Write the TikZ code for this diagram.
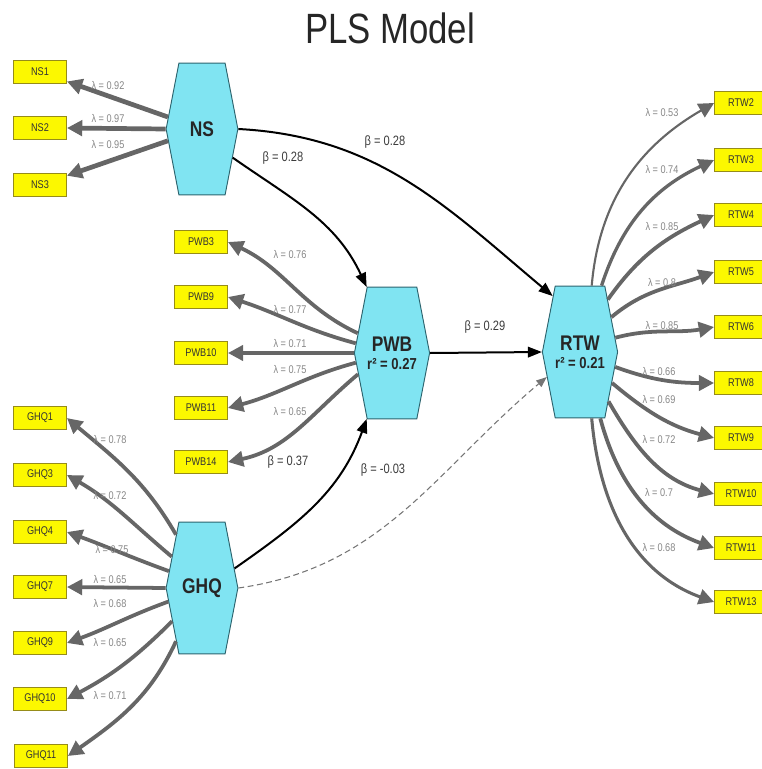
\documentclass[tikz,border=0pt]{standalone}
\usepackage{fontspec}
\setmainfont{Liberation Sans}[FakeStretch=0.82]
\usepackage{xcolor}
\usepackage{tikz}
\usetikzlibrary{positioning, arrows.meta, shapes.symbols}

\definecolor{lvfill}{RGB}{128,228,242}
\definecolor{lvline}{RGB}{45,100,110}
\definecolor{mvfill}{RGB}{252,248,0}
\definecolor{mvline}{RGB}{150,140,25}
\definecolor{loadgray}{RGB}{102,102,102}
\definecolor{lamgray}{RGB}{135,135,135}
\definecolor{betagray}{RGB}{60,60,60}

\begin{document}
\begin{tikzpicture}[x=0.85pt, y=-0.85pt,
    lv/.style={signal, signal to=east and west, signal pointer angle=158,
      fill=lvfill, draw=lvline, line width=0.8pt, minimum width=61pt,
      minimum height=112pt, inner sep=0pt, align=center, text=black!85,
      font=\fontsize{13.5}{14}\selectfont\bfseries},
    mv/.style={rectangle, fill=mvfill, draw=mvline, line width=0.8pt,
      minimum width=45pt, minimum height=19.5pt, inner sep=0pt,
      font=\fontsize{9.5}{10}\selectfont, text=black!80},
    load/.style={draw=loadgray, line width=3.2pt, -{Triangle[length=13pt, width=13pt]}},
    lam/.style={font=\fontsize{9.5}{10}\selectfont, text=lamgray, inner sep=0pt},
    sarrow/.style={draw=black, line width=1.7pt, -{Triangle[length=12pt, width=9pt]}},
    beta/.style={font=\fontsize{11.5}{12}\selectfont, text=betagray, inner sep=0pt}]

  \useasboundingbox (0,0) rectangle (761,769);

  \node[font=\fontsize{36}{40}\selectfont, text=black!85] (title) at (390,28) {PLS Model};

  % latent variables
  \node[lv] (NS) at (202,129) {\fontsize{18}{18}\selectfont NS};
  \node[lv] (PWB) at (392,353) {{\fontsize{18}{18}\selectfont PWB}\\[1pt] r² = 0.27};
  \node[lv] (GHQ) at (202,588) {\fontsize{18}{18}\selectfont GHQ};
  \node[lv] (RTW) at (580,352) {{\fontsize{18}{18}\selectfont RTW}\\[1pt] r² = 0.21};

  % indicators
  \node[mv] (NS1) at (40,72) {NS1};
  \node[mv] (NS2) at (40,128) {NS2};
  \node[mv] (NS3) at (40,185) {NS3};

  \node[mv] (PWB3) at (201,242) {PWB3};
  \node[mv] (PWB9) at (201,297) {PWB9};
  \node[mv] (PWB10) at (201,353) {PWB10};
  \node[mv] (PWB11) at (201,408) {PWB11};
  \node[mv] (PWB14) at (201,462) {PWB14};

  \node[mv] (GHQ1) at (40,418) {GHQ1};
  \node[mv] (GHQ3) at (40,475) {GHQ3};
  \node[mv] (GHQ4) at (40,532) {GHQ4};
  \node[mv] (GHQ7) at (40,587) {GHQ7};
  \node[mv] (GHQ9) at (40,643) {GHQ9};
  \node[mv] (GHQ10) at (40,699) {GHQ10};
  \node[mv] (GHQ11) at (41,756) {GHQ11};

  \node[mv] (RTW2) at (741,103) {RTW2};
  \node[mv] (RTW3) at (741,160) {RTW3};
  \node[mv] (RTW4) at (741,215) {RTW4};
  \node[mv] (RTW5) at (741,272) {RTW5};
  \node[mv] (RTW6) at (741,327) {RTW6};
  \node[mv] (RTW8) at (741,383) {RTW8};
  \node[mv] (RTW9) at (741,438) {RTW9};
  \node[mv] (RTW10) at (741,494) {RTW10};
  \node[mv] (RTW11) at (741,548) {RTW11};
  \node[mv] (RTW13) at (741,602) {RTW13};

  % outer loadings
  \draw[load, line width=4pt] (NS) -- (NS1);
  \draw[load, line width=4pt] (NS.west) -- (NS2.east);
  \draw[load, line width=4pt] (NS) -- (NS3);

  \draw[load] (PWB.150) to[out=155, in=-25] (PWB3.east);
  \draw[load] (PWB.165) to[out=165, in=-18] (PWB9.east);
  \draw[load] (PWB.west) -- (PWB10.east);
  \draw[load] (PWB.195) to[out=195, in=15] (PWB11.east);
  \draw[load] (PWB.212) to[out=220, in=12] (PWB14.east);

  \draw[load] (GHQ.116) to[out=120, in=-40] (GHQ1.east);
  \draw[load] (GHQ.134) to[out=140, in=-30] (GHQ3.east);
  \draw[load] (GHQ.153) to[out=160, in=-20] (GHQ4.east);
  \draw[load] (GHQ.west) -- (GHQ7.east);
  \draw[load] (GHQ.202) to[out=200, in=20] (GHQ9.east);
  \draw[load] (GHQ.228) to[out=225, in=28] (GHQ10.east);
  \draw[load] (GHQ.244) to[out=245, in=35] (GHQ11.east);

  \draw[load, line width=1.8pt] (RTW.80) to[out=85, in=210] (RTW2.west);
  \draw[load, line width=2.8pt] (RTW.72) to[out=72, in=205] (RTW3.west);
  \draw[load] (RTW.62) to[out=55, in=205] (RTW4.west);
  \draw[load] (RTW.48) to[out=40, in=200] (RTW5.west);
  \draw[load] (RTW.22) to[out=15, in=190] (RTW6.west);
  \draw[load] (RTW.-23) to[out=-20, in=180] (RTW8.west);
  \draw[load] (RTW.-44) to[out=-40, in=165] (RTW9.west);
  \draw[load] (RTW.-60) to[out=-60, in=165] (RTW10.west);
  \draw[load] (RTW.-73) to[out=-75, in=160] (RTW11.west);
  \draw[load, line width=2.6pt] (RTW.-80) to[out=-85, in=160] (RTW13.west);

  % loading values
  \node[lam] (lns1) at (108,86) {λ = 0.92};
  \node[lam] (lns2) at (108,119) {λ = 0.97};
  \node[lam] (lns3) at (108,145) {λ = 0.95};

  \node[lam] (lpwb3) at (290,255) {λ = 0.76};
  \node[lam] (lpwb9) at (290,310) {λ = 0.77};
  \node[lam] (lpwb10) at (290,344) {λ = 0.71};
  \node[lam] (lpwb11) at (290,370) {λ = 0.75};
  \node[lam] (lpwb14) at (290,412) {λ = 0.65};

  \node[lam] (lghq1) at (110,440) {λ = 0.78};
  \node[lam] (lghq3) at (110,496) {λ = 0.72};
  \node[lam] (lghq4) at (112,549) {λ = 0.75};
  \node[lam] (lghq7) at (110,579) {λ = 0.65};
  \node[lam] (lghq9) at (110,603) {λ = 0.68};
  \node[lam] (lghq10) at (110,642) {λ = 0.65};
  \node[lam] (lghq11) at (110,695) {λ = 0.71};

  \node[lam] (lrtw2) at (662,113) {λ = 0.53};
  \node[lam] (lrtw3) at (662,170) {λ = 0.74};
  \node[lam] (lrtw4) at (662,227) {λ = 0.85};
  \node[lam] (lrtw5) at (662,283) {λ = 0.8};
  \node[lam] (lrtw6) at (662,326) {λ = 0.85};
  \node[lam] (lrtw8) at (659,372) {λ = 0.66};
  \node[lam] (lrtw9) at (659,400) {λ = 0.69};
  \node[lam] (lrtw10) at (659,440) {λ = 0.72};
  \node[lam] (lrtw11) at (659,493) {λ = 0.7};
  \node[lam] (lrtw13) at (659,547) {λ = 0.68};

  % inner model
  \draw[sarrow] (NS.-43) to[out=-35, in=115] (PWB.111);
  \draw[sarrow] (NS.east) to[out=-3, in=140] (RTW.116);
  \draw[sarrow] (PWB.east) -- (RTW.west);
  \draw[sarrow] (GHQ.31) to[out=35, in=-110] (PWB.249);
  \draw[draw=loadgray!90, line width=0.9pt, dash pattern=on 5pt off 3pt,
    -{Triangle[length=9pt, width=7pt]}] (GHQ.east) to[out=8, in=-140] (RTW.217);

  \node[beta] (bnspwb) at (283,158) {β = 0.28};
  \node[beta] (bnsrtw) at (385,142) {β = 0.28};
  \node[beta] (bpwbrtw) at (485,327) {β = 0.29};
  \node[beta] (bghqpwb) at (288,462) {β = 0.37};
  \node[beta] (bghqrtw) at (383,470) {β = -0.03};

\end{tikzpicture}
\end{document}
